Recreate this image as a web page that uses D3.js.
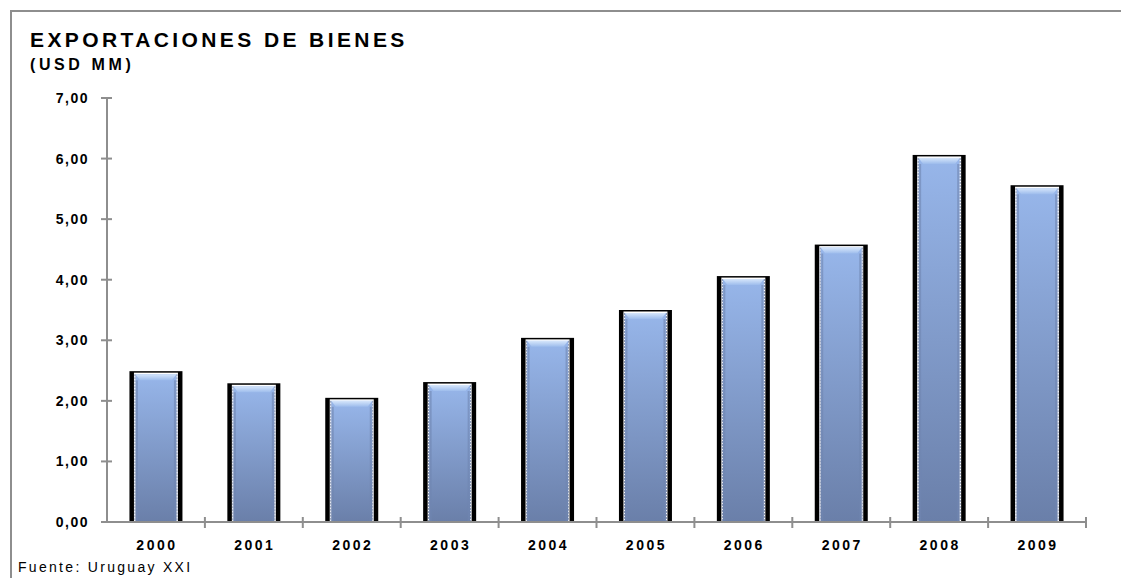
<!DOCTYPE html>
<html>
<head>
<meta charset="utf-8">
<script src="https://cdn.jsdelivr.net/npm/d3@7"></script>
<style>
  body { margin: 0; background: #fff; }
  text { font-family: Arial, "Liberation Sans", sans-serif; fill: #000; }
</style>
</head>
<body>
<svg></svg>
<script>
'use strict';

// data
var years = ['2000', '2001', '2002', '2003', '2004', '2005', '2006', '2007', '2008', '2009'];
var exportsUsd = [2.49, 2.29, 2.05, 2.31, 3.04, 3.50, 4.06, 4.58, 6.06, 5.56];
var yTicks = [0, 1, 2, 3, 4, 5, 6, 7];

var SVG_SIZE = { width: 1121, height: 578 };
var MARGIN = { left: 107, right: 35, top: 98, bottom: 56 };

var svg = d3.select('svg')
    .attr('width', SVG_SIZE.width).attr('height', SVG_SIZE.height);

var plotW = SVG_SIZE.width - MARGIN.left - MARGIN.right;
var plotH = SVG_SIZE.height - MARGIN.top - MARGIN.bottom;

var xScale = d3.scaleBand().domain(years).range([MARGIN.left, MARGIN.left + plotW]);
var yScale = d3.scaleLinear().domain([0, 7]).range([MARGIN.top + plotH, MARGIN.top]);

//gradients
var defs = svg.append('defs');
var g1 = defs.append('linearGradient').attr('id', 'barFill')
    .attr('x1', 0).attr('y1', 0).attr('x2', 0).attr('y2', 1);
g1.append('stop').attr('offset', '0%').attr('stop-color', '#97b6ea');
g1.append('stop').attr('offset', '100%').attr('stop-color', '#6a7fa9');
var g2 = defs.append('linearGradient').attr('id', 'topShine')
    .attr('x1', 0).attr('y1', 0).attr('x2', 0).attr('y2', 1);
g2.append('stop').attr('offset', '0%').attr('stop-color', '#d6e6fb');
g2.append('stop').attr('offset', '100%').attr('stop-color', '#9dbcec');

// outer frame
svg.append('path')
    .attr('d', 'M11,' + SVG_SIZE.height + ' V11 H' + SVG_SIZE.width)
    .attr('fill', 'none').attr('stroke', '#8e8e8e').attr('stroke-width', 2);

// titles
svg.append('text').text('EXPORTACIONES DE BIENES')
    .attr('x', 30).attr('y', 47)
    .style('font-size', '21px').style('font-weight', 'bold').style('letter-spacing', '3.4px');
svg.append('text').text('(USD MM)')
    .attr('x', 30).attr('y', 70)
    .style('font-size', '16px').style('font-weight', 'bold').style('letter-spacing', '3.6px');

// bars
var bw = xScale.bandwidth();
var bars = svg.append('g').selectAll('g').data(years).enter().append('g');
var base = yScale(0);

bars.append('rect')
    .attr('x', function (d) { return xScale(d) + bw / 2 - 26.5; })
    .attr('y', function (d, i) { return yScale(exportsUsd[i]); })
    .attr('width', 53)
    .attr('height', function (d, i) { return base - yScale(exportsUsd[i]); })
    .attr('fill', '#000');

bars.append('rect')
    .attr('x', function (d) { return xScale(d) + bw / 2 - 22; })
    .attr('y', function (d, i) { return yScale(exportsUsd[i]) + 1.5; })
    .attr('width', 44)
    .attr('height', function (d, i) { return base - yScale(exportsUsd[i]) - 1.5; })
    .attr('fill', '#fff');

bars.append('rect')
    .attr('x', function (d) { return xScale(d) + bw / 2 - 20.5; })
    .attr('y', function (d, i) { return yScale(exportsUsd[i]) + 3; })
    .attr('width', 41)
    .attr('height', function (d, i) { return base - yScale(exportsUsd[i]) - 3; })
    .attr('fill', 'url(#barFill)');

// dotted grey side edges
bars.append('path')
    .attr('d', function (d, i) {
        var x = xScale(d) + bw / 2, t = yScale(exportsUsd[i]) + 3;
        return 'M' + (x - 21) + ',' + t + 'V' + base + 'M' + (x + 21) + ',' + t + 'V' + base;
    })
    .attr('stroke', '#8d9ab8').attr('stroke-width', 1.2).attr('stroke-dasharray', '2,1').attr('fill', 'none');

// darker inner side bevel
bars.append('path')
    .attr('d', function (d, i) {
        var x = xScale(d) + bw / 2, t = yScale(exportsUsd[i]) + 9;
        return 'M' + (x - 19) + ',' + t + 'V' + base + 'M' + (x + 19) + ',' + t + 'V' + base;
    })
    .attr('stroke', '#7086b0').attr('stroke-width', 2).attr('stroke-opacity', 0.6).attr('fill', 'none');

// top shine bevel
bars.append('path')
    .attr('d', function (d, i) {
        var x = xScale(d) + bw / 2, t = yScale(exportsUsd[i]) + 3;
        return 'M' + (x - 20.5) + ',' + t + 'H' + (x + 20.5) + 'L' + (x + 16) + ',' + (t + 6) +
            'H' + (x - 16) + 'Z';
    })
    .attr('fill', 'url(#topShine)');

// axes
var axisColor = '#8e8e8e';
var yAxis = svg.append('g');
yAxis.append('line')
    .attr('x1', MARGIN.left).attr('x2', MARGIN.left)
    .attr('y1', yScale(7)).attr('y2', yScale(0))
    .attr('stroke', axisColor).attr('stroke-width', 2);
yAxis.selectAll('line.tick').data(yTicks).enter().append('line')
    .attr('class', 'tick')
    .attr('x1', MARGIN.left - 6).attr('x2', MARGIN.left + 5)
    .attr('y1', function (d) { return yScale(d); }).attr('y2', function (d) { return yScale(d); })
    .attr('stroke', axisColor).attr('stroke-width', 2);
yAxis.selectAll('text').data(yTicks).enter().append('text')
    .attr('x', 89).attr('y', function (d) { return yScale(d) + 5; })
    .attr('text-anchor', 'end')
    .style('font-size', '14px').style('font-weight', 'bold').style('letter-spacing', '1.5px')
    .text(function (d) { return d3.format('.2f')(d).replace('.', ','); });

var xAxis = svg.append('g');
xAxis.append('line')
    .attr('x1', MARGIN.left).attr('x2', MARGIN.left + plotW)
    .attr('y1', base).attr('y2', base)
    .attr('stroke', axisColor).attr('stroke-width', 2);
var bounds = years.map(function (d) { return xScale(d) + bw; });
xAxis.selectAll('line.tick').data(bounds).enter().append('line')
    .attr('class', 'tick')
    .attr('x1', function (d) { return d; }).attr('x2', function (d) { return d; })
    .attr('y1', base - 5).attr('y2', base + 6)
    .attr('stroke', axisColor).attr('stroke-width', 2);
xAxis.selectAll('text').data(years).enter().append('text')
    .attr('x', function (d) { return xScale(d) + bw / 2 + 1; }).attr('y', 550)
    .attr('text-anchor', 'middle')
    .style('font-size', '14px').style('font-weight', 'bold').style('letter-spacing', '2.5px')
    .text(function (d) { return d; });

// source
svg.append('text').text('Fuente: Uruguay XXI')
    .attr('x', 18).attr('y', 572)
    .style('font-size', '14px').style('letter-spacing', '2.3px');
</script>
</body>
</html>
